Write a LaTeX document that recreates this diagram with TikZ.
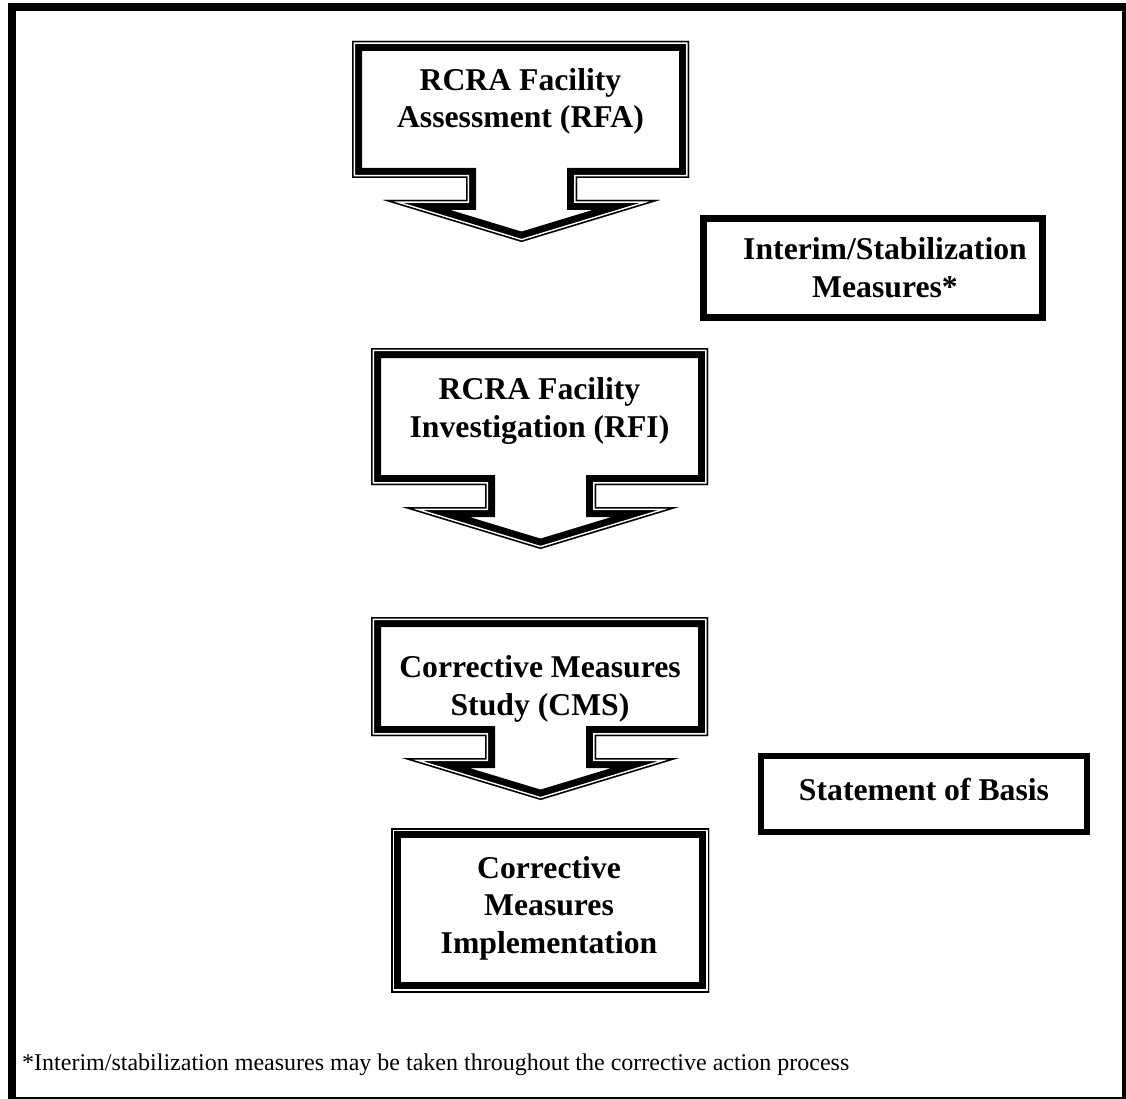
\documentclass[tikz,border=0pt]{standalone}
\usepackage{fontspec}
\setmainfont{Liberation Serif}
\begin{document}
\begin{tikzpicture}[x=1pt,y=-1pt,
  lbl/.style={font=\fontsize{31.7}{37.5}\selectfont\bfseries, align=center, inner sep=0pt, anchor=base},
  plainbox/.style={draw=black, line width=7pt, line join=miter},
  note/.style={font=\fontsize{24}{28}\selectfont, inner sep=0pt, anchor=base west}]
\useasboundingbox (0,0) rectangle (1126,1099);
\fill[white] (0,0) rectangle (1126,1099);
% outer frame
\draw[line width=8pt] (12,7) rectangle (1126,1101);
% triple border helper
\newcommand{\tripleborder}[1]{%
  \begin{scope}
    \clip #1;
    \fill[white] #1;
    \draw[line width=20pt, line join=miter] #1;
    \draw[white, line width=6pt, line join=miter] #1;
    \draw[line width=3pt, line join=miter] #1;
  \end{scope}}
\def\arrowpath#1{(352,#1) -- (689,#1) -- (689,178) -- (577,178) -- (577,200) -- (660,200) -- (521.5,242) -- (383,200) -- (466,200) -- (466,178) -- (352,178) -- cycle}
% callout 1
\tripleborder{\arrowpath{41}}
% callout 2
\begin{scope}[shift={(19,307)}]
  \tripleborder{\arrowpath{41}}
\end{scope}
% callout 3 (shorter body)
\begin{scope}[shift={(19,558)}]
  \tripleborder{\arrowpath{59}}
\end{scope}
% implementation box
\tripleborder{(391,828) rectangle (709,992)}
% plain boxes
\draw[plainbox] (703.5,218.5) rectangle (1042,317);
\draw[plainbox, line width=6pt] (761,756) rectangle (1087,832);
% texts (base anchor = last line's baseline)
\node[lbl] (rfa) at (520.5,128) {RCRA Facility\\Assessment (RFA)};
\node[lbl] (rfi) at (539.5,437) {RCRA Facility\\Investigation (RFI)};
\node[lbl] (cms) at (540,715) {Corrective Measures\\Study (CMS)};
\node[lbl] (cmi) at (549,953) {Corrective\\Measures\\Implementation};
\node[lbl] (ism) at (885,297) {Interim/Stabilization\\Measures*};
\node[lbl] (sob) at (924,800) {Statement of Basis};
\node[note] (fn) at (22,1070) {*Interim/stabilization measures may be taken throughout the corrective action process};
\end{tikzpicture}
\end{document}
